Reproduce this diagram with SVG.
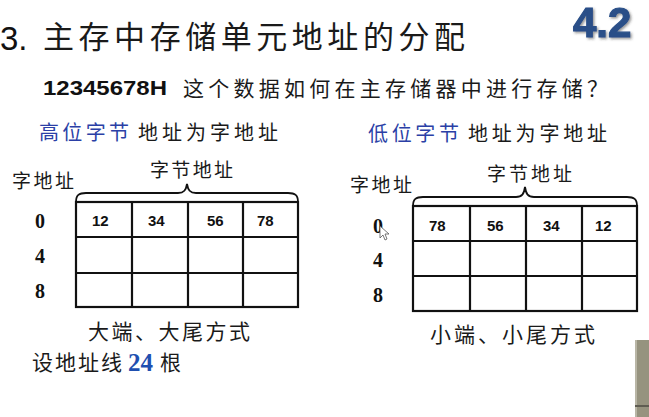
<svg xmlns="http://www.w3.org/2000/svg" width="649" height="417" viewBox="0 0 649 417">
<defs>
<style>
.cjk{font-family:"Noto Sans CJK SC","Noto Sans",sans-serif;fill:#1a1a1a;}
.blue{fill:#2b3fa6;}
.num{font-family:"Liberation Serif",serif;font-weight:bold;font-size:20px;fill:#111;}
.cell{font-family:"Liberation Sans",Arial,sans-serif;font-weight:bold;font-size:15px;fill:#111;}
.grid{fill:none;stroke:#111;stroke-width:2.2;}
.brace{fill:none;stroke:#111;stroke-width:1.8;}
</style>
<filter id="shadow" x="-10%" y="-10%" width="130%" height="140%">
<feDropShadow dx="1.5" dy="1.5" stdDeviation="0.8" flood-color="#333" flood-opacity="0.5"/>
</filter>
</defs>
<rect width="649" height="417" fill="#ffffff"/>

<g id="title">
<text x="0" y="50" font-family="Liberation Sans,Arial,sans-serif" font-size="33" fill="#111">3.</text>
<text class="cjk" x="43" y="48" font-size="31" textLength="422" lengthAdjust="spacing">主存中存储单元地址的分配</text>
</g>
<g id="logo">
<text x="573" y="37" font-family="Liberation Sans,Arial,sans-serif" font-weight="bold" font-size="42" fill="#2a4f88" stroke="#2a4f88" stroke-width="1.2" filter="url(#shadow)">4.2</text>
</g>

<g id="question">
<text x="43" y="95" font-family="Liberation Sans,Arial,sans-serif" font-weight="bold" font-size="21" fill="#111" textLength="124" lengthAdjust="spacingAndGlyphs">12345678H</text>
<text class="cjk" x="183" y="96" font-size="21" textLength="425" lengthAdjust="spacing">这个数据如何在主存储器中进行存储？</text>
</g>

<g id="heading-left">
<text class="cjk blue" x="39" y="140" font-size="20" textLength="90" lengthAdjust="spacing">高位字节</text>
<text class="cjk" x="138" y="140" font-size="20" textLength="140" lengthAdjust="spacing">地址为字地址</text>
</g>
<g id="heading-right">
<text class="cjk blue" x="368" y="141" font-size="20" textLength="91" lengthAdjust="spacing">低位字节</text>
<text class="cjk" x="468" y="141" font-size="20" textLength="139" lengthAdjust="spacing">地址为字地址</text>
</g>

<g id="connectors">
<path class="brace" d="M76,202 C76,195 79,193 86,193 L178,193 C184,193 186,190 187,184 C188,190 190,193 196,193 L288,193 C295,193 298,195 298,202"/>
<path class="brace" d="M413,206 C413,199 416,197 423,197 L516,197 C522,197 524,194 525,187 C526,194 528,197 534,197 L627,197 C634,197 637,199 637,206"/>
</g>

<g id="table-big-endian">
<text class="cjk" x="12" y="188" font-size="19" textLength="62" lengthAdjust="spacing">字地址</text>
<text class="cjk" x="150" y="177" font-size="19" textLength="83" lengthAdjust="spacing">字节地址</text>
<rect class="grid" x="76" y="202" width="222" height="105"/>
<path class="grid" d="M76,237 H298 M76,273 H298 M132,202 V307 M188,202 V307 M243,202 V307"/>
<text class="num" x="35" y="228">0</text>
<text class="num" x="35" y="263">4</text>
<text class="num" x="35" y="298">8</text>
<text class="cell" x="92" y="226">12</text>
<text class="cell" x="148" y="226">34</text>
<text class="cell" x="207" y="226">56</text>
<text class="cell" x="257" y="226">78</text>
<text class="cjk" x="88" y="339" font-size="21" textLength="162" lengthAdjust="spacing">大端、大尾方式</text>
</g>

<g id="table-little-endian">
<text class="cjk" x="350" y="192" font-size="19" textLength="62" lengthAdjust="spacing">字地址</text>
<text class="cjk" x="487" y="181" font-size="19" textLength="85" lengthAdjust="spacing">字节地址</text>
<rect class="grid" x="413" y="206" width="224" height="105"/>
<path class="grid" d="M413,241 H637 M413,276 H637 M470,206 V311 M526,206 V311 M582,206 V311"/>
<text class="num" x="373" y="233">0</text>
<text class="num" x="373" y="267">4</text>
<text class="num" x="373" y="302">8</text>
<text class="cell" x="429" y="231">78</text>
<text class="cell" x="487" y="231">56</text>
<text class="cell" x="543" y="231">34</text>
<text class="cell" x="595" y="231">12</text>
<text class="cjk" x="430" y="342" font-size="21" textLength="165" lengthAdjust="spacing">小端、小尾方式</text>
</g>

<g id="note">
<text class="cjk" x="32" y="370" font-size="21" textLength="90" lengthAdjust="spacing">设地址线</text>
<text x="128" y="371" font-family="Liberation Serif,serif" font-weight="bold" font-size="25" fill="#1f4fb0">24</text>
<text class="cjk" x="160" y="370" font-size="21">根</text>
</g>

<g id="cursor">
<path d="M380,226 L380,238 L383,235 L385,240 L387,239 L385,234 L389,234 Z" fill="#fff" stroke="#555" stroke-width="0.8"/>
</g>

<g id="overlay">
<rect x="635" y="340" width="14" height="77" fill="#96937f"/>
<rect x="635" y="340" width="2" height="77" fill="#b9b6a6"/>
<rect x="635" y="405" width="14" height="2" fill="#5f5d52"/>
</g>
</svg>
